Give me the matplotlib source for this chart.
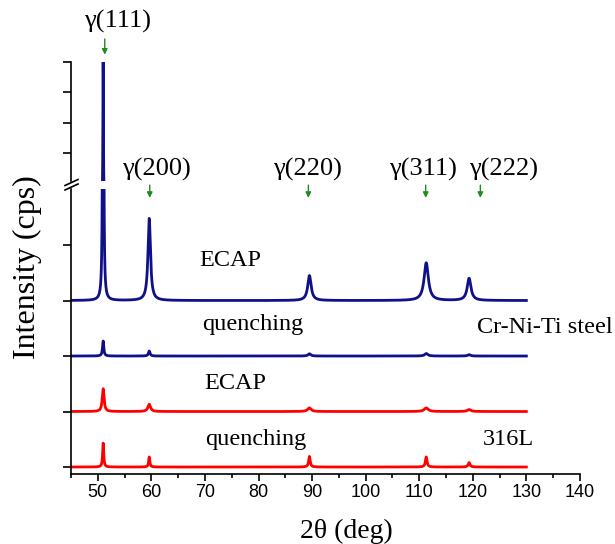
import numpy as np
import matplotlib
matplotlib.use("Agg")
import matplotlib.pyplot as plt
from matplotlib.lines import Line2D
from matplotlib.ticker import MultipleLocator

# peak positions (2theta, deg)
peak_pos = [51.0, 59.6, 89.5, 111.3, 119.3]
peak_names = ["γ(111)", "γ(200)", "γ(220)", "γ(311)", "γ(222)"]

# patterns: baseline offset, peak heights, peak half widths
base_ecap_crniti = 3.0
h_ecap_crniti = [19.0, 1.48, 0.45, 0.68, 0.40]
w_ecap_crniti = [0.06, 0.28, 0.38, 0.48, 0.42]

base_q_crniti = 2.0
h_q_crniti = [0.27, 0.09, 0.04, 0.045, 0.025]
w_q_crniti = [0.14, 0.18, 0.3, 0.35, 0.3]

base_ecap_316 = 1.0
h_ecap_316 = [0.41, 0.13, 0.065, 0.065, 0.035]
w_ecap_316 = [0.2, 0.3, 0.4, 0.45, 0.4]

base_q_316 = 0.0
h_q_316 = [0.43, 0.18, 0.19, 0.18, 0.08]
w_q_316 = [0.12, 0.13, 0.17, 0.18, 0.2]

# arrow / label positions for the peak marks
arrow_x = [51.3, 59.7, 89.3, 111.2, 121.4]
label_x = [53.6, 60.9, 89.1, 110.7, 125.7]

navy = "#10108a"
red = "#ff0000"
green = "#1e8c1e"

two_theta = np.arange(45.0, 130.0, 0.01)


def pattern(base, heights, widths):
    y = np.full_like(two_theta, base)
    for p, h, w in zip(peak_pos, heights, widths):
        y += h / (1 + ((two_theta - p) / w) ** 2)
    return y


serif = "Liberation Serif"
plt.rcParams["font.family"] = "Liberation Sans"

fig = plt.figure(figsize=(6.15, 5.44), dpi=100)
W, H = 615.0, 544.0
ax = fig.add_axes([71 / W, (H - 474) / H, (580 - 71) / W, (474 - 189) / H])
axt = fig.add_axes([71 / W, (H - 181) / H, (580 - 71) / W, (181 - 62) / H])

curves = [
    (base_ecap_crniti, h_ecap_crniti, w_ecap_crniti, navy),
    (base_q_crniti, h_q_crniti, w_q_crniti, navy),
    (base_ecap_316, h_ecap_316, w_ecap_316, red),
    (base_q_316, h_q_316, w_q_316, red),
]
for b, hs, ws, c in curves:
    y = pattern(b, hs, ws)
    ax.plot(two_theta, y, color=c, lw=2)
    axt.plot(two_theta, y, color=c, lw=2)

ax.set_ylim(-0.126, 5.01)
ax.set_xlim(45, 140)
axt.set_xlim(45, 140)
axt.set_ylim(6.3, 22.0)

for a in (ax, axt):
    a.spines["top"].set_visible(False)
    a.spines["right"].set_visible(False)
    a.patch.set_alpha(0)
    a.spines["left"].set_linewidth(1.2)
axt.spines["bottom"].set_visible(False)
ax.spines["bottom"].set_linewidth(1.2)

ax.xaxis.set_major_locator(MultipleLocator(10))
ax.xaxis.set_minor_locator(MultipleLocator(5))
ax.tick_params(axis="x", which="major", direction="out", length=5, width=1.2,
               labelsize=13, pad=2.5)
ax.tick_params(axis="x", which="minor", direction="out", length=3, width=1.2)
ax.set_yticks([0, 1, 2, 3, 4])
ax.tick_params(axis="y", direction="out", length=6, width=1.2, labelleft=False)

axt.set_xticks([])
axt.set_yticks([10, 14, 18, 22])
axt.tick_params(axis="y", direction="out", length=6, width=1.2, labelleft=False)

# break marks on the y axis
for yp in (182.5, 187.0):
    fig.add_artist(Line2D([65 / W, 78 / W], [(H - yp - 3) / H, (H - yp + 3) / H],
                          color="black", lw=1.2))

# peak marks
txt = dict(fontsize=19, family=serif, ha="center", va="center")
arr = dict(arrowstyle="-|>", color=green, lw=1.0, mutation_scale=8)
axt.annotate("", xy=(arrow_x[0], 22.6), xytext=(arrow_x[0], 25.4),
             arrowprops=arr, annotation_clip=False)
axt.text(label_x[0], 27.3, peak_names[0], clip_on=False, **txt)
for i in range(1, 5):
    ax.annotate("", xy=(arrow_x[i], 4.8), xytext=(arrow_x[i], 5.13),
                arrowprops=arr, annotation_clip=False)
    ax.text(label_x[i], 5.37, peak_names[i], clip_on=False, **txt)

lab = dict(fontsize=17.5, family=serif, va="center")
ax.text(74.7, 3.73, "ECAP", ha="center", **lab)
ax.text(79.0, 2.56, "quenching", ha="center", **lab)
ax.text(146.1, 2.52, "Cr-Ni-Ti steel", ha="right", clip_on=False, **lab)
ax.text(75.6, 1.51, "ECAP", ha="center", **lab)
ax.text(79.5, 0.49, "quenching", ha="center", **lab)
ax.text(121.8, 0.49, "316L", ha="left", **lab)

fig.text(27 / W, (H - 267) / H, "Intensity (cps)", rotation=90, fontsize=23,
         family=serif, ha="center", va="center")
fig.text(346 / W, (H - 531) / H, "2θ (deg)", fontsize=20, family=serif,
         ha="center", va="center")

fig.savefig("out.png", dpi=100)
